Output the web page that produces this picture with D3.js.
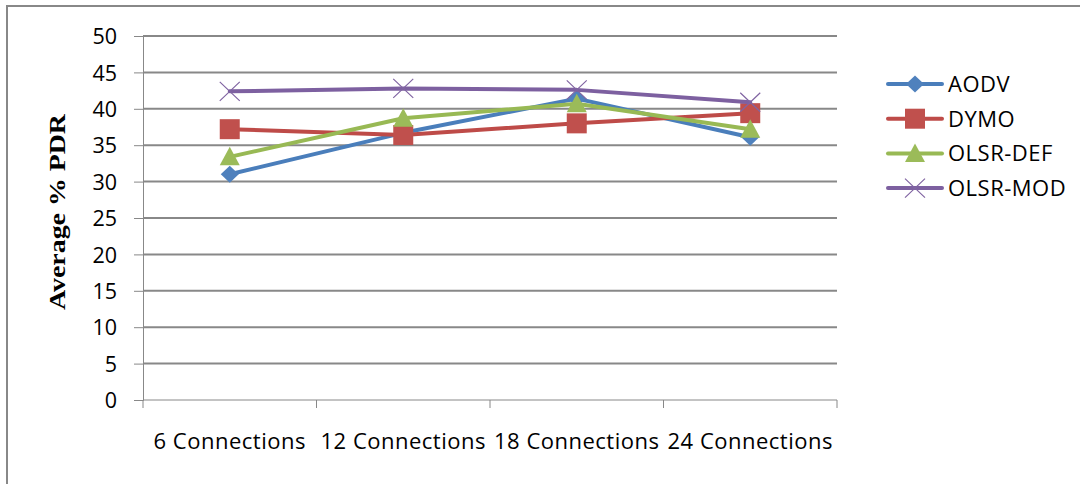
<!DOCTYPE html>
<html>
<head>
<meta charset="utf-8">
<script src="https://cdn.jsdelivr.net/npm/d3@7"></script>
<style>
  html, body { margin: 0; padding: 0; background: #fff; }
  svg { display: block; }
</style>
</head>
<body>
<svg id="chart" width="1080" height="484"></svg>
<script>
// Average packet delivery ratio per routing protocol and connection count
const categories = ["6 Connections", "12 Connections", "18 Connections", "24 Connections"];
const seriesNames = ["AODV", "DYMO", "OLSR-DEF", "OLSR-MOD"];
const aodv    = [31.0, 36.7, 41.4, 36.1];
const dymo    = [37.2, 36.4, 38.0, 39.4];
const olsrDef = [33.4, 38.7, 40.7, 37.2];
const olsrMod = [42.4, 42.8, 42.6, 40.9];
const yTicks  = [0, 5, 10, 15, 20, 25, 30, 35, 40, 45, 50];

const seriesValues = [aodv, dymo, olsrDef, olsrMod];
const colors = ["#4A7EBB", "#BE4B48", "#98B954", "#7D60A0"];
const markerFill = ["#4F81BD", "#C0504D", "#9BBB59", "#8064A2"];
const markerKind = ["diamond", "square", "triangle", "cross"];

const svg = d3.select("#chart");
const W = 1080, H = 484;
const plot = { left: 143, right: 837, top: 36, bottom: 400 };
const FONT = "'Open Sans', 'Noto Sans', sans-serif";
const GRID = "#888888";

svg.append("rect").attr("width", W).attr("height", H).attr("fill", "#fff");

// chart frame (top and left edges)
svg.append("path")
  .attr("d", `M7,${H} L7,6 L${W},6`)
  .attr("fill", "none").attr("stroke", GRID).attr("stroke-width", 2);

const x = d3.scaleBand().domain(categories).range([plot.left, plot.right]).padding(0);
const y = d3.scaleLinear().domain([0, 50]).range([plot.bottom, plot.top]);

// horizontal gridlines
svg.append("g").selectAll("line")
  .data(yTicks.filter(t => t > 0))
  .join("line")
  .attr("x1", plot.left).attr("x2", plot.right)
  .attr("y1", d => y(d)).attr("y2", d => y(d))
  .attr("stroke", GRID).attr("stroke-width", 2);

// y axis
const yAxis = svg.append("g")
  .attr("transform", `translate(${plot.left},0)`)
  .call(d3.axisLeft(y).tickValues(yTicks).tickSize(9).tickPadding(17));
yAxis.select(".domain").attr("stroke", GRID).attr("stroke-width", 1);
yAxis.selectAll(".tick line").attr("stroke", GRID).attr("stroke-width", 1);
yAxis.selectAll(".tick text")
  .attr("fill", "#000").attr("font-family", FONT).attr("font-size", 21.5)
  .attr("dy", "0.36em");

// x axis with ticks at category boundaries
const xAxisG = svg.append("g").attr("transform", `translate(0,${plot.bottom})`);
xAxisG.append("line")
  .attr("x1", plot.left).attr("x2", plot.right)
  .attr("stroke", GRID).attr("stroke-width", 1);
const bounds = categories.map(c => x(c)).concat([x(categories[categories.length - 1]) + x.bandwidth()]);
xAxisG.selectAll("line.tick").data(bounds).join("line")
  .attr("class", "tick")
  .attr("x1", d => d).attr("x2", d => d)
  .attr("y1", 0).attr("y2", 8)
  .attr("stroke", GRID).attr("stroke-width", 1);
xAxisG.selectAll("text").data(categories).join("text")
  .attr("x", d => x(d) + x.bandwidth() / 2)
  .attr("y", 49)
  .attr("text-anchor", "middle")
  .attr("font-family", FONT).attr("font-size", 22).attr("letter-spacing", 0.5)
  .attr("fill", "#000")
  .text(d => d);

// y axis title
svg.append("text")
  .attr("transform", "translate(65,212) rotate(-90)")
  .attr("text-anchor", "middle")
  .attr("font-family", "'Liberation Serif', 'Times New Roman', serif")
  .attr("font-weight", "bold").attr("font-size", 24).attr("fill", "#000")
  .attr("textLength", 196).attr("lengthAdjust", "spacingAndGlyphs")
  .text("Average % PDR");

// marker shapes
function markerPath(kind) {
  switch (kind) {
    case "diamond":  return "M0,-8.5L9,0L0,8.5L-9,0Z";
    case "square":   return "M-10,-10H10V10H-10Z";
    case "triangle": return "M0,-10L10,8.5L-10,8.5Z";
    default:         return "M-10,-9.5L10,9.5M-10,9.5L10,-9.5";
  }
}
function drawMarker(g, kind, i) {
  const p = g.append("path").attr("d", markerPath(kind));
  if (kind === "cross") {
    p.attr("fill", "none").attr("stroke", markerFill[i]).attr("stroke-width", 1.2);
  } else {
    p.attr("fill", markerFill[i]).attr("stroke", "none");
  }
}

const line = d3.line()
  .x((d, j) => x(categories[j]) + x.bandwidth() / 2)
  .y(d => y(d));

seriesValues.forEach((vals, i) => {
  const g = svg.append("g");
  g.append("path")
    .attr("d", line(vals))
    .attr("fill", "none")
    .attr("stroke", colors[i]).attr("stroke-width", 4)
    .attr("stroke-linejoin", "round").attr("stroke-linecap", "round");
  vals.forEach((v, j) => {
    const m = g.append("g")
      .attr("transform", `translate(${x(categories[j]) + x.bandwidth() / 2},${y(v)})`);
    drawMarker(m, markerKind[i], i);
  });
});

// legend
const legend = svg.append("g").attr("transform", "translate(888,84)");
seriesNames.forEach((name, i) => {
  const row = legend.append("g").attr("transform", `translate(0,${i * 34.7})`);
  row.append("line")
    .attr("x1", 0).attr("x2", 54)
    .attr("stroke", colors[i]).attr("stroke-width", 4).attr("stroke-linecap", "round");
  const m = row.append("g").attr("transform", "translate(27,0)");
  drawMarker(m, markerKind[i], i);
  row.append("text")
    .attr("x", 60).attr("y", 0).attr("dy", "0.36em")
    .attr("font-family", FONT).attr("font-size", 22).attr("letter-spacing", 0.5)
    .attr("fill", "#000")
    .text(name);
});
</script>
</body>
</html>
